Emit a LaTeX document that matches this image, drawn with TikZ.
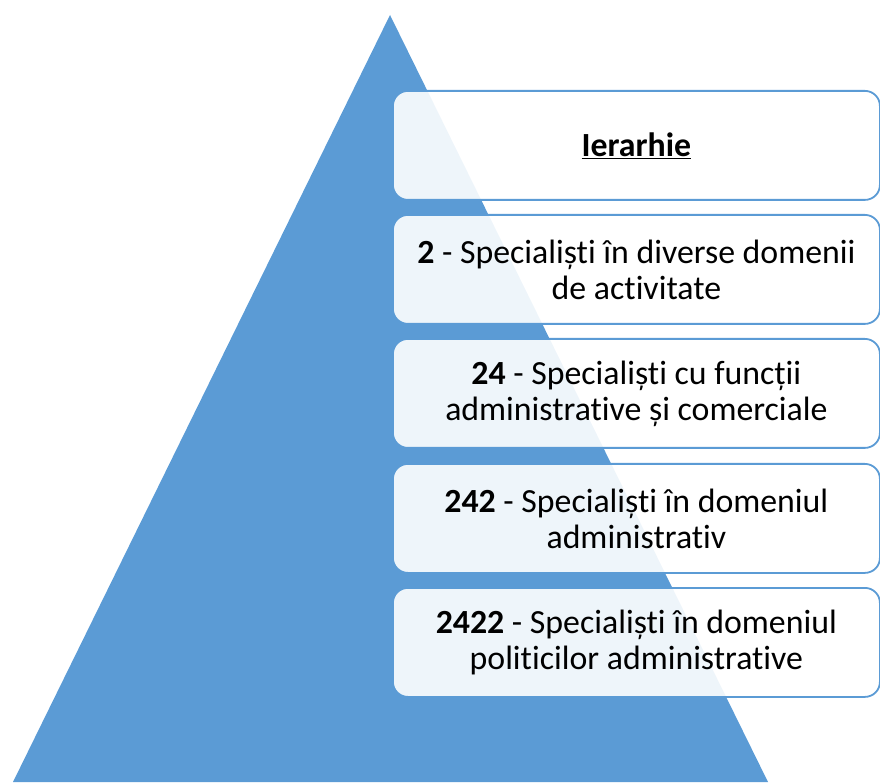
\documentclass[tikz,border=0pt]{standalone}
\usepackage{fontspec}
\setmainfont{Carlito}[Ligatures=NoCommon,Contextuals=NoAlternate]
\definecolor{triblue}{HTML}{5B9BD5}
\definecolor{boxline}{HTML}{5B9BD5}
\begin{document}
\begin{tikzpicture}[x=1pt,y=1pt,
  levelbox/.style={draw=boxline, line width=1.8pt, rounded corners=15pt,
    fill=white, fill opacity=0.9, text opacity=1, minimum width=487pt,
    minimum height=109pt, anchor=north west, inner sep=0pt, align=center,
    font=\fontsize{33.8}{36}\selectfont, text=black}]
\useasboundingbox (0,0) rectangle (880,782);
\fill[triblue] (13,0) -- (390,767) -- (768,0) -- cycle;
\node[levelbox] (b1) at (392,692) {\textbf{\underline{Ierarhie}}};
\node[levelbox] (b2) at (392,568) {\textbf{2} - Specialiști în diverse domenii\\de activitate};
\node[levelbox] (b3) at (392,444) {\textbf{24} - Specialiști cu funcții\\administrative și comerciale};
\node[levelbox] (b4) at (392,319) {\textbf{242} - Specialiști în domeniul\\administrativ};
\node[levelbox] (b5) at (392,195) {\textbf{2422} - Specialiști în domeniul\\politicilor administrative};
\end{tikzpicture}
\end{document}
